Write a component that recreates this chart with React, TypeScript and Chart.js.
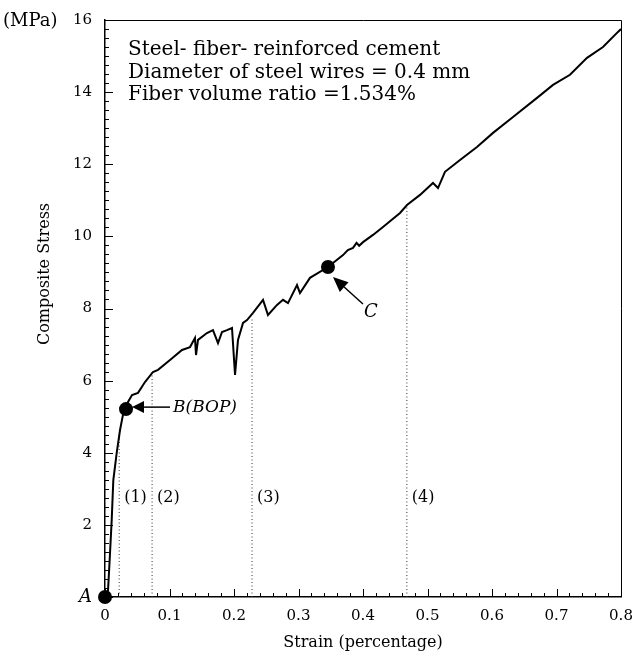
import React, { useEffect, useRef } from "react";
import { Chart, registerables } from "chart.js";

Chart.register(...registerables);

const FONT = "'DejaVu Serif', serif";

// Stress–strain curve (strain in %, stress in MPa)
const strain = [
  0, 0.0047, 0.0078, 0.0104, 0.0129, 0.0181, 0.0233, 0.0284, 0.0326, 0.0357,
  0.0419, 0.0512, 0.062, 0.0744, 0.0822, 0.1008, 0.1194, 0.1318, 0.1395, 0.1411,
  0.1442, 0.1581, 0.1674, 0.1752, 0.1814, 0.1891, 0.1969, 0.2016, 0.2062, 0.214,
  0.2202, 0.2295, 0.245, 0.2527, 0.2667, 0.276, 0.2837, 0.2977, 0.3023, 0.3178,
  0.3457, 0.369, 0.3765, 0.3845, 0.39, 0.394, 0.4, 0.4155, 0.431, 0.4574, 0.4682,
  0.4884, 0.5085, 0.5163, 0.5271, 0.5504, 0.5767, 0.6016, 0.6326, 0.6698, 0.6946,
  0.7209, 0.7473, 0.7721, 0.7953, 0.8,
];
const stress = [
  0, 0.19, 1.22, 2.14, 3.24, 3.99, 4.63, 5.1, 5.21, 5.41,
  5.6, 5.66, 5.96, 6.24, 6.3, 6.57, 6.85, 6.93, 7.18, 6.71,
  7.13, 7.32, 7.4, 7.04, 7.35, 7.4, 7.46, 6.16, 7.13, 7.6,
  7.68, 7.88, 8.24, 7.82, 8.1, 8.24, 8.15, 8.65, 8.43, 8.85,
  9.15, 9.48, 9.62, 9.68, 9.82, 9.74, 9.84, 10.04, 10.26, 10.65, 10.87,
  11.15, 11.48, 11.34, 11.79, 12.12, 12.48, 12.87, 13.31, 13.84, 14.2,
  14.48, 14.95, 15.25, 15.67, 15.75,
];

// Key points A, B(BOP), C
const keyNames = ["A", "B(BOP)", "C"];
const keyStrain = [0, 0.0326, 0.3457];
const keyStress = [0, 5.21, 9.15];

// Stage boundaries (dotted lines)
const stageNames = ["(1)", "(2)", "(3)", "(4)"];
const stageStrain = [0.022, 0.073, 0.228, 0.468];
const stageStress = [4.55, 6.25, 7.72, 10.85];
const stageLabelStress = 2.75;

// Axis ticks
const xTicks = [0, 0.1, 0.2, 0.3, 0.4, 0.5, 0.6, 0.7, 0.8];
const xTickLabels = ["0", "0.1", "0.2", "0.3", "0.4", "0.5", "0.6", "0.7", "0.8"];
const yTicks = [0, 2, 4, 6, 8, 10, 12, 14, 16];
const yTickLabels = ["A", "2", "4", "6", "8", "10", "12", "14", "16"];

const infoLines = [
  "Steel- fiber- reinforced cement",
  "Diameter of steel wires = 0.4 mm",
  "Fiber volume ratio =1.534%",
];
const xTitle = "Strain (percentage)";
const yTitle = "Composite Stress";
const yUnit = "(MPa)";

function drawArrow(ctx: CanvasRenderingContext2D, x1: number, y1: number, x2: number, y2: number, headLen: number, headHalf: number) {
  const ang = Math.atan2(y2 - y1, x2 - x1);
  const bx = x2 - headLen * Math.cos(ang);
  const by = y2 - headLen * Math.sin(ang);
  ctx.beginPath();
  ctx.moveTo(x1, y1);
  ctx.lineTo(bx, by);
  ctx.lineWidth = 1.5;
  ctx.stroke();
  ctx.beginPath();
  ctx.moveTo(x2, y2);
  ctx.lineTo(bx + headHalf * Math.sin(ang), by - headHalf * Math.cos(ang));
  ctx.lineTo(bx - headHalf * Math.sin(ang), by + headHalf * Math.cos(ang));
  ctx.closePath();
  ctx.fill();
}

const decorPlugin = {
  id: "decor",
  afterDraw(chart: any) {
    const { ctx, chartArea } = chart;
    const xs = chart.scales.x;
    const ys = chart.scales.y;
    ctx.save();
    ctx.strokeStyle = "#000";
    ctx.fillStyle = "#000";

    // top & right frame
    ctx.lineWidth = 1;
    ctx.beginPath();
    ctx.moveTo(chartArea.left, chartArea.top + 0.5);
    ctx.lineTo(chartArea.right + 0.5, chartArea.top + 0.5);
    ctx.lineTo(chartArea.right + 0.5, chartArea.bottom);
    ctx.stroke();

    // inward ticks
    ctx.lineWidth = 1;
    ctx.beginPath();
    for (let i = 0; i <= 64; i++) {
      const py = Math.round(ys.getPixelForValue(i * 0.25)) + 0.5;
      const len = i % 8 === 0 ? 8 : 4;
      ctx.moveTo(chartArea.left, py);
      ctx.lineTo(chartArea.left + len, py);
    }
    for (let i = 0; i <= 40; i++) {
      const px = Math.round(xs.getPixelForValue(i * 0.02)) + 0.5;
      const len = i % 5 === 0 ? 8 : 4;
      ctx.moveTo(px, chartArea.bottom);
      ctx.lineTo(px, chartArea.bottom - len);
    }
    ctx.stroke();

    // info text
    ctx.font = `20px ${FONT}`;
    ctx.textAlign = "left";
    ctx.textBaseline = "alphabetic";
    infoLines.forEach((t, i) => ctx.fillText(t, 128, 55 + i * 22.5));

    // unit
    ctx.font = `18px ${FONT}`;
    ctx.textBaseline = "middle";
    ctx.fillText(yUnit, 3, 21);

    // axis titles
    ctx.font = `16px ${FONT}`;
    ctx.textAlign = "center";
    ctx.fillText(xTitle, (chartArea.left + chartArea.right) / 2, 643);
    ctx.save();
    ctx.translate(45, 274);
    ctx.rotate(-Math.PI / 2);
    ctx.fillText(yTitle, 0, 0);
    ctx.restore();

    // stage labels
    ctx.font = `16px ${FONT}`;
    ctx.textAlign = "left";
    stageNames.forEach((n, i) => {
      ctx.fillText(n, xs.getPixelForValue(stageStrain[i]) + 5, ys.getPixelForValue(stageLabelStress));
    });

    // B arrow & label
    const bx = xs.getPixelForValue(keyStrain[1]);
    const by = ys.getPixelForValue(keyStress[1]) - 2;
    drawArrow(ctx, bx + 44, by, bx + 6, by, 12, 6);
    ctx.font = `italic 17px ${FONT}`;
    ctx.fillText(keyNames[1], bx + 47, by);

    // C arrow & label
    const cx = xs.getPixelForValue(keyStrain[2]);
    const cy = ys.getPixelForValue(keyStress[2]);
    drawArrow(ctx, cx + 35, cy + 37, cx + 5, cy + 10, 15, 6.5);
    ctx.font = `italic 18px ${FONT}`;
    ctx.textAlign = "center";
    ctx.fillText(keyNames[2], cx + 43, cy + 45);

    ctx.restore();
  },
};

export default function App() {
  const ref = useRef<HTMLCanvasElement | null>(null);

  useEffect(() => {
    if (!ref.current) return;
    const curve = strain.map((s, i) => ({ x: s, y: stress[i] }));
    const keys = keyStrain.map((s, i) => ({ x: s, y: keyStress[i] }));
    const stageSets = stageStrain.map((s, i) => ({
      data: [
        { x: s, y: 0 },
        { x: s, y: stageStress[i] },
      ],
      borderColor: "#333",
      borderWidth: 1,
      borderDash: [1, 2.5],
      pointRadius: 0,
      showLine: true,
      order: 2,
    }));

    const chart = new Chart(ref.current, {
      type: "scatter",
      data: {
        datasets: [
          {
            data: keys,
            pointRadius: 7,
            pointBackgroundColor: "#000",
            pointBorderWidth: 0,
            showLine: false,
            clip: false as any,
            order: 0,
          },
          {
            data: curve,
            borderColor: "#000",
            borderWidth: 2,
            pointRadius: 0,
            showLine: true,
            tension: 0,
            order: 1,
          },
          ...stageSets,
        ] as any,
      },
      options: {
        responsive: false,
        animation: false,
        devicePixelRatio: 1,
        layout: { padding: { top: 20, right: 12, left: 0, bottom: 0 } },
        plugins: { legend: { display: false }, tooltip: { enabled: false } },
        scales: {
          x: {
            type: "linear",
            min: 0,
            max: 0.8,
            afterFit: (s: any) => {
              s.height = 55;
              s.paddingLeft = 0;
              s.paddingRight = 0;
            },
            afterBuildTicks: (s: any) => {
              s.ticks = xTicks.map((v) => ({ value: v }));
            },
            grid: { display: false, drawTicks: false },
            border: { display: true, color: "#000", width: 1.5 },
            ticks: {
              color: "#000",
              font: { family: FONT, size: 15 },
              padding: 10,
              maxRotation: 0,
              autoSkip: false,
              callback: (_v: any, i: number) => xTickLabels[i],
            },
          },
          y: {
            type: "linear",
            min: 0,
            max: 16,
            afterFit: (s: any) => {
              s.width = 105;
              s.paddingTop = 0;
              s.paddingBottom = 0;
            },
            afterBuildTicks: (s: any) => {
              s.ticks = yTicks.map((v) => ({ value: v }));
            },
            grid: { display: false, drawTicks: false },
            border: { display: true, color: "#000", width: 1.5 },
            ticks: {
              color: "#000",
              font: (c: any) =>
                c.index === 0
                  ? { family: FONT, size: 18, style: "italic" }
                  : { family: FONT, size: 15 },
              padding: 13,
              autoSkip: false,
              callback: (_v: any, i: number) => yTickLabels[i],
            },
          },
        },
      } as any,
      plugins: [decorPlugin],
    });
    return () => chart.destroy();
  }, []);

  return (
    <div style={{ position: "absolute", left: 0, top: 0, width: 633, height: 652, background: "#fff" }}>
      <canvas ref={ref} width={633} height={652} style={{ display: "block" }} />
    </div>
  );
}
